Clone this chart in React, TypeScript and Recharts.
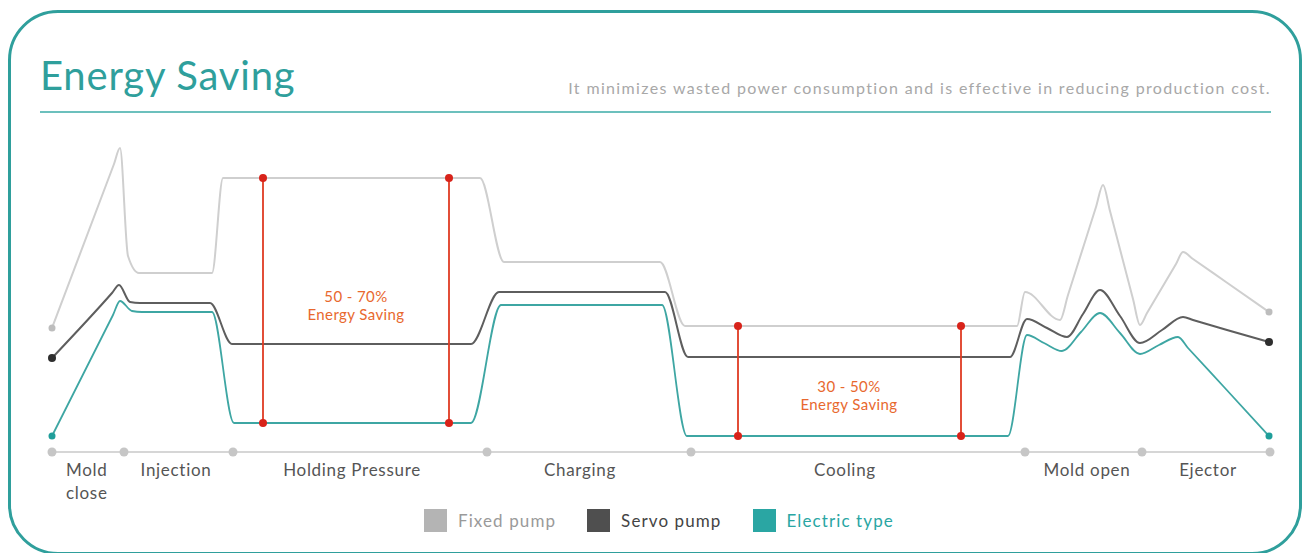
import React from 'react';
import {
  ComposedChart,
  Line,
  Scatter,
  XAxis,
  YAxis,
  ReferenceLine,
  ReferenceDot,
} from 'recharts';

// time (t) vs. power draw (v) for one molding cycle
const fixedPump = [
  { t: 0, v: 124 }, { t: 62, v: 288 }, { t: 68, v: 304 }, { t: 76, v: 196 }, { t: 87, v: 179 },
  { t: 160, v: 179 }, { t: 171, v: 274 }, { t: 428, v: 274 }, { t: 452, v: 190 },
  { t: 608, v: 190 }, { t: 633, v: 126 }, { t: 965, v: 126 }, { t: 973, v: 160 },
  { t: 1008, v: 132 }, { t: 1016, v: 157 }, { t: 1044, v: 245 }, { t: 1051, v: 267 },
  { t: 1058, v: 241 }, { t: 1081, v: 153 }, { t: 1088, v: 127 }, { t: 1095, v: 139 },
  { t: 1124, v: 188 }, { t: 1131, v: 200 }, { t: 1141, v: 193 }, { t: 1174, v: 170 },
  { t: 1217, v: 140 },
];

const servoPump = [
  { t: 0, v: 94 }, { t: 60, v: 159 }, { t: 67, v: 167 }, { t: 78, v: 150 }, { t: 88, v: 149 },
  { t: 158, v: 149 }, { t: 180, v: 108 }, { t: 419, v: 108 }, { t: 447, v: 160 },
  { t: 613, v: 160 }, { t: 636, v: 95 }, { t: 958, v: 95 }, { t: 975, v: 133 },
  { t: 995, v: 124 }, { t: 1015, v: 115 }, { t: 1031, v: 138 }, { t: 1048, v: 162 },
  { t: 1068, v: 136 }, { t: 1088, v: 109 }, { t: 1110, v: 122 }, { t: 1131, v: 135 },
  { t: 1141, v: 132 }, { t: 1175, v: 122 }, { t: 1217, v: 110 },
];

const electricType = [
  { t: 0, v: 16 }, { t: 61, v: 137 }, { t: 68, v: 151 }, { t: 80, v: 141 }, { t: 90, v: 140 },
  { t: 160, v: 140 }, { t: 182, v: 29 }, { t: 419, v: 29 }, { t: 449, v: 147 },
  { t: 610, v: 147 }, { t: 635, v: 16 }, { t: 956, v: 16 }, { t: 975, v: 117 },
  { t: 992, v: 109 }, { t: 1010, v: 101 }, { t: 1029, v: 120 }, { t: 1048, v: 139 },
  { t: 1068, v: 119 }, { t: 1088, v: 98 }, { t: 1107, v: 107 }, { t: 1126, v: 115 },
  { t: 1136, v: 104 }, { t: 1172, v: 65 }, { t: 1217, v: 16 },
];

const phaseBounds = [0, 72, 181, 435, 639, 973, 1090, 1218];
const phaseNames = ['Mold\nclose', 'Injection', 'Holding Pressure', 'Charging', 'Cooling', 'Mold open', 'Ejector'];
const phaseCenters = [35, 124, 300, 528, 793, 1035, 1156];

// energy saving brackets: fixed pump level down to electric level
const holdingSaving = [
  { t: 211, top: 274, bottom: 29 },
  { t: 397, top: 274, bottom: 29 },
];
const coolingSaving = [
  { t: 686, top: 126, bottom: 16 },
  { t: 909, top: 126, bottom: 16 },
];
const savingNotes = [
  { t: 304, v: 150, text: ['50 - 70%', 'Energy Saving'] },
  { t: 797, v: 60, text: ['30 - 50%', 'Energy Saving'] },
];

const FONT = 'Lato, "Noto Sans", sans-serif';
const TEAL = '#2f9f9c';
const RED = '#df3a22';

const endDot = (color: string, r: number, last: number) => (props: any) => {
  const { cx, cy, index } = props;
  if (index !== 0 && index !== last) return <g key={`d${index}`} />;
  return <circle key={`d${index}`} cx={cx} cy={cy} r={r} fill={color} stroke="none" />;
};

const PhaseTick = (props: any) => {
  const { x, y, payload } = props;
  const idx = phaseCenters.indexOf(payload.value);
  const name = phaseNames[idx] || '';
  const lines = name.split('\n');
  const multi = lines.length > 1;
  const tx = multi ? x - 21 : x;
  return (
    <text
      x={tx}
      y={y + 16}
      textAnchor={multi ? 'start' : 'middle'}
      fill="#555"
      fontSize={17}
      letterSpacing={0.7}
      fontFamily={FONT}
    >
      {lines.map((l, i) => (
        <tspan key={i} x={tx} dy={i === 0 ? 0 : 23}>
          {l}
        </tspan>
      ))}
    </text>
  );
};

const Note = (text: string[]) => (props: any) => (
  <text
    x={props.cx}
    y={props.cy}
    textAnchor="middle"
    fill="#e8682e"
    fontSize={15}
    letterSpacing={0.4}
    fontFamily={FONT}
  >
    <tspan x={props.cx} dy={0}>{text[0]}</tspan>
    <tspan x={props.cx} dy={18}>{text[1]}</tspan>
  </text>
);

const legendItems = [
  { name: 'Fixed pump', swatch: '#b4b4b4', text: '#9a9a9a' },
  { name: 'Servo pump', swatch: '#4f4f4f', text: '#444' },
  { name: 'Electric type', swatch: '#2aa6a3', text: '#2aa6a3' },
];

const App = () => {
  const brackets = [...holdingSaving, ...coolingSaving];
  return (
    <div style={{ position: 'absolute', left: 0, top: 0, width: 1310, height: 553, background: '#fff', fontFamily: FONT }}>
      <div
        style={{
          position: 'absolute',
          left: 8,
          top: 10,
          width: 1294,
          height: 545,
          border: `3px solid ${TEAL}`,
          borderRadius: 50,
          boxSizing: 'border-box',
        }}
      />
      <div
        style={{
          position: 'absolute',
          left: 40,
          top: 49,
          fontSize: 40,
          letterSpacing: 0.8,
          color: TEAL,
          lineHeight: '52px',
        }}
      >
        Energy Saving
      </div>
      <div
        style={{
          position: 'absolute',
          right: 39,
          top: 78,
          fontSize: 16,
          letterSpacing: 1.35,
          color: '#a8a8a8',
          lineHeight: '20px',
          whiteSpace: 'nowrap',
        }}
      >
        It minimizes wasted power consumption and is effective in reducing production cost.
      </div>
      <div style={{ position: 'absolute', left: 40, top: 111, width: 1231, height: 2, background: '#6cc0bd' }} />

      <div style={{ position: 'absolute', left: 0, top: 0 }}>
        <ComposedChart width={1310} height={553} margin={{ top: 132, right: 40, bottom: 41, left: 52 }}>
          <XAxis
            dataKey="t"
            type="number"
            domain={[0, 1218]}
            ticks={phaseCenters}
            interval={0}
            height={60}
            axisLine={{ stroke: '#d6d6d6', strokeWidth: 2 }}
            tickLine={false}
            tick={<PhaseTick />}
          />
          <YAxis dataKey="v" type="number" domain={[0, 320]} hide />
          <Line
            data={fixedPump}
            dataKey="v"
            name="Fixed pump"
            type="monotone"
            stroke="#cfcfcf"
            strokeWidth={2}
            dot={endDot('#bdbdbd', 3.5, fixedPump.length - 1)}
            activeDot={false}
            isAnimationActive={false}
          />
          <Line
            data={servoPump}
            dataKey="v"
            name="Servo pump"
            type="monotone"
            stroke="#5e5e5e"
            strokeWidth={2}
            dot={endDot('#2e2e2e', 4, servoPump.length - 1)}
            activeDot={false}
            isAnimationActive={false}
          />
          <Line
            data={electricType}
            dataKey="v"
            name="Electric type"
            type="monotone"
            stroke="#3ea6a3"
            strokeWidth={1.8}
            dot={endDot('#1f9e9a', 3.5, electricType.length - 1)}
            activeDot={false}
            isAnimationActive={false}
          />
          <Scatter
            data={phaseBounds.map((t) => ({ t, v: 0 }))}
            dataKey="v"
            fill="#c6c6c6"
            shape={(p: any) => <circle cx={p.cx} cy={p.cy} r={4.5} fill="#c6c6c6" />}
            isAnimationActive={false}
          />
          {brackets.map((b, i) => (
            <ReferenceLine
              key={`rl${i}`}
              segment={[
                { x: b.t, y: b.top },
                { x: b.t, y: b.bottom },
              ]}
              stroke={RED}
              strokeWidth={1.8}
            />
          ))}
          {brackets.map((b, i) => (
            <ReferenceDot key={`rt${i}`} x={b.t} y={b.top} r={4} fill="#d8231a" stroke="none" />
          ))}
          {brackets.map((b, i) => (
            <ReferenceDot key={`rb${i}`} x={b.t} y={b.bottom} r={4} fill="#d8231a" stroke="none" />
          ))}
          {savingNotes.map((n, i) => (
            <ReferenceDot key={`n${i}`} x={n.t} y={n.v} r={0} shape={Note(n.text)} />
          ))}
        </ComposedChart>
      </div>

      <div
        style={{
          position: 'absolute',
          left: 424,
          top: 509,
          display: 'flex',
          alignItems: 'center',
          fontSize: 17,
          letterSpacing: 1.1,
        }}
      >
        {legendItems.map((it, i) => (
          <div key={it.name} style={{ display: 'flex', alignItems: 'center', marginRight: i < 2 ? 31 : 0 }}>
            <div style={{ width: 23, height: 23, background: it.swatch, marginRight: 11 }} />
            <span style={{ color: it.text }}>{it.name}</span>
          </div>
        ))}
      </div>
    </div>
  );
};

export default App;
